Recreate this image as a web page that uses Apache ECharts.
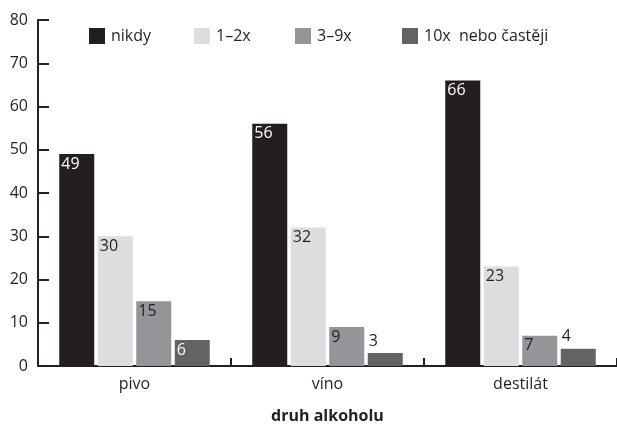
<!DOCTYPE html>
<html>
<head>
<meta charset="utf-8">
<script src="https://cdn.jsdelivr.net/npm/echarts@6/dist/echarts.min.js"></script>
<style>html,body{margin:0;padding:0;background:#fff}#c{width:617px;height:429px}</style>
</head>
<body>
<div id="c"></div>
<script>
var categories = ['pivo', 'víno', 'destilát'];
var seriesNames = ['nikdy', '1–2x', '3–9x', '10x  nebo častěji'];
var nikdy = [49, 56, 66];
var x1_2 = [30, 32, 23];
var x3_9 = [15, 9, 7];
var x10 = [6, 3, 4];
var yTicks = [0, 10, 20, 30, 40, 50, 60, 70, 80];

var colors = ['#231f20', '#dcdddf', '#939598', '#626365'];
var labelColors = ['#ffffff', '#231f20', '#231f20', '#ffffff'];
var legendLeft = [84, 189, 290, 397];
var FONT = 'Open Sans';

function mk(name, vals, i) {
  return {
    name: name,
    type: 'bar',
    barWidth: 35,
    barGap: '10%',
    itemStyle: { color: colors[i] },
    data: vals.map(function (v) {
      var small = v < 5;
      return {
        value: v,
        label: {
          show: true,
          position: small ? [1, -20] : 'insideTopLeft',
          distance: 2,
          color: small ? '#231f20' : labelColors[i],
          fontFamily: FONT,
          fontSize: 16,
          formatter: '{c}'
        }
      };
    })
  };
}

var legends = seriesNames.map(function (n, i) {
  return {
    top: 23,
    left: legendLeft[i],
    itemWidth: 16,
    itemHeight: 16,
    itemGap: 0,
    icon: 'rect',
    textStyle: { fontFamily: FONT, fontSize: 16, color: '#231f20', padding: [0, 0, 0, 1] },
    data: [n]
  };
});

var chart = echarts.init(document.getElementById('c'));
chart.setOption({
  animation: false,
  textStyle: { fontFamily: FONT },
  legend: legends,
  grid: { left: 38, right: 0, top: 20, bottom: 61, containLabel: false },
  xAxis: {
    type: 'category',
    data: categories,
    name: 'druh alkoholu',
    nameLocation: 'middle',
    nameGap: 42,
    nameTextStyle: { fontFamily: FONT, fontSize: 16, fontWeight: 'bold', color: '#231f20' },
    axisLine: { lineStyle: { color: '#231f20', width: 2 } },
    axisTick: { show: true, inside: true, length: 8, interval: 0, alignWithLabel: false, lineStyle: { color: '#231f20', width: 2 } },
    axisLabel: { fontFamily: FONT, fontSize: 16, color: '#231f20', margin: 10 }
  },
  yAxis: {
    type: 'value',
    min: yTicks[0],
    max: yTicks[yTicks.length - 1],
    interval: 10,
    splitLine: { show: false },
    axisLine: { show: true, lineStyle: { color: '#231f20', width: 2 } },
    axisTick: { show: true, inside: true, length: 11, lineStyle: { color: '#231f20', width: 2 } },
    axisLabel: { fontFamily: FONT, fontSize: 16, color: '#231f20', margin: 10 }
  },
  series: [
    mk(seriesNames[0], nikdy, 0),
    mk(seriesNames[1], x1_2, 1),
    mk(seriesNames[2], x3_9, 2),
    mk(seriesNames[3], x10, 3)
  ]
});
</script>
</body>
</html>
